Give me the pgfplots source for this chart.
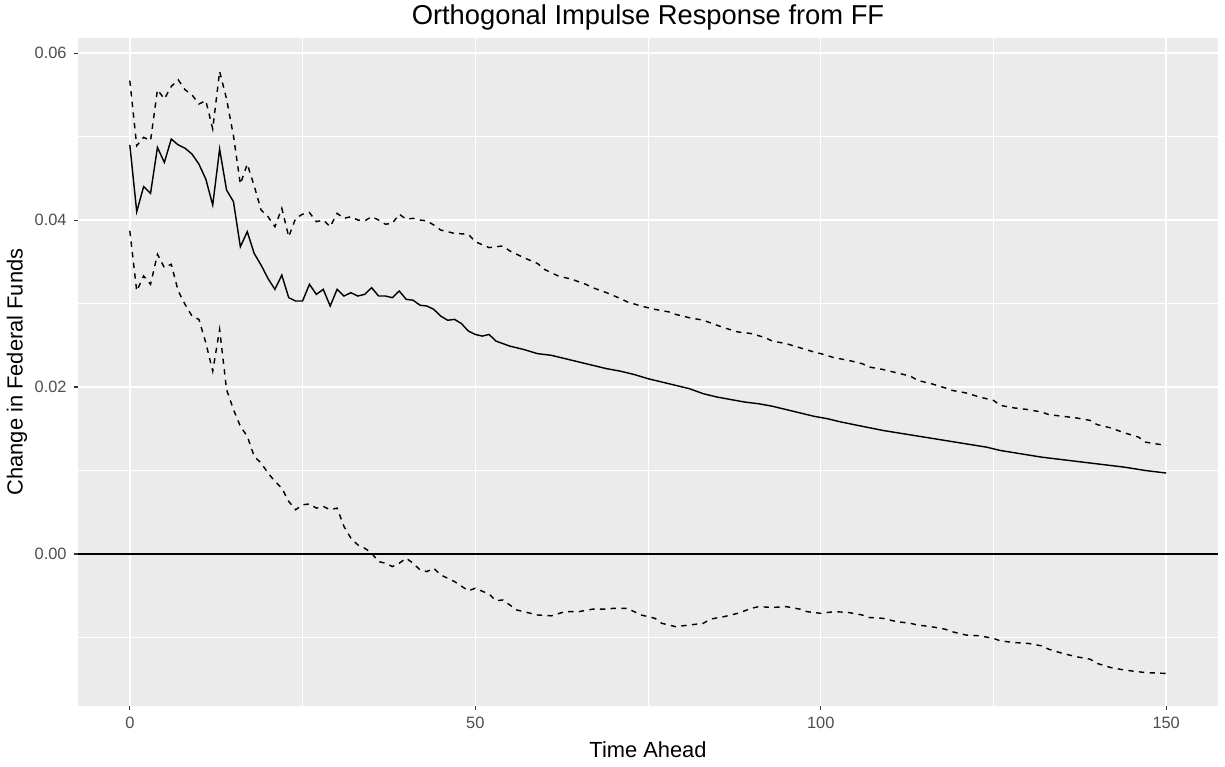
\documentclass[border=0pt]{standalone}
\usepackage{fontspec}
\setmainfont{Liberation Sans}
\usepackage{pgfplots}
\usepackage{pgfplotstable}
\pgfplotsset{compat=1.18}
\definecolor{ggbg}{HTML}{EBEBEB}
\definecolor{gray30}{HTML}{4D4D4D}
\definecolor{gray20}{HTML}{333333}

\pgfplotstableread{
x y
0 0.0490
1 0.0410
2 0.0440
3 0.0432
4 0.0487
5 0.0469
6 0.0497
7 0.0490
8 0.0486
9 0.0479
10 0.0467
11 0.0449
12 0.0418
13 0.0485
14 0.0436
15 0.0422
16 0.0368
17 0.0386
18 0.0360
19 0.0346
20 0.0330
21 0.0317
22 0.0334
23 0.0307
24 0.0303
25 0.0303
26 0.0323
27 0.0311
28 0.0317
29 0.0297
30 0.0317
31 0.0309
32 0.0313
33 0.0309
34 0.0311
35 0.0319
36 0.0309
37 0.0309
38 0.0307
39 0.0315
40 0.0305
41 0.0304
42 0.0298
43 0.0297
44 0.0293
45 0.0285
46 0.0280
47 0.0281
48 0.0276
49 0.0267
50 0.0263
51 0.0261
52 0.0263
53 0.0255
55 0.0249
57 0.0245
59 0.0240
61 0.0238
63 0.0234
65 0.0230
67 0.0226
69 0.0222
71 0.0219
73 0.0215
75 0.0210
77 0.0206
79 0.0202
81 0.0198
83 0.0192
85 0.0188
87 0.0185
89 0.0182
91 0.0180
93 0.0177
95 0.0173
97 0.0169
99 0.0165
101 0.0162
103 0.0158
106 0.0153
109 0.0148
112 0.0144
115 0.0140
118 0.0136
121 0.0132
124 0.0128
126 0.0124
129 0.0120
132 0.0116
135 0.0113
138 0.0110
141 0.0107
144 0.0104
147 0.0100
150 0.0097
}\tabmid

\pgfplotstableread{
x y
0 0.0567
1 0.0489
2 0.0499
3 0.0495
4 0.0556
5 0.0545
6 0.0560
7 0.0568
8 0.0556
9 0.0550
10 0.0539
11 0.0543
12 0.0509
13 0.0578
14 0.0545
15 0.0501
16 0.0443
17 0.0467
18 0.0441
19 0.0412
20 0.0404
21 0.0392
22 0.0414
23 0.0380
24 0.0402
25 0.0407
26 0.0409
27 0.0398
28 0.0400
29 0.0392
30 0.0408
31 0.0402
32 0.0404
33 0.0400
34 0.0399
35 0.0404
36 0.0400
37 0.0395
38 0.0396
39 0.0407
40 0.0401
41 0.0402
42 0.0400
43 0.0399
44 0.0394
45 0.0388
47 0.0384
49 0.0383
50 0.0374
52 0.0367
54 0.0369
55 0.0363
57 0.0355
59 0.0348
60 0.0341
62 0.0333
64 0.0329
66 0.0323
67 0.0319
69 0.0313
71 0.0306
72 0.0302
74 0.0297
76 0.0293
78 0.0290
79 0.0287
81 0.0283
83 0.0280
85 0.0274
86 0.0271
88 0.0266
90 0.0264
92 0.0259
93 0.0255
95 0.0252
97 0.0247
99 0.0242
100 0.0240
102 0.0235
104 0.0232
106 0.0228
107 0.0224
109 0.0221
111 0.0217
113 0.0213
114 0.0208
116 0.0204
118 0.0199
119 0.0196
121 0.0193
123 0.0188
125 0.0184
126 0.0178
128 0.0175
130 0.0173
132 0.0170
133 0.0167
135 0.0165
137 0.0163
139 0.0160
140 0.0155
142 0.0151
144 0.0145
146 0.0140
147 0.0134
150 0.0130
}\tabup

\pgfplotstableread{
x y
0 0.0387
1 0.0315
2 0.0333
3 0.0323
4 0.0359
5 0.0343
6 0.0347
7 0.0315
8 0.0299
9 0.0285
10 0.0281
11 0.0253
12 0.0219
13 0.0269
14 0.0197
15 0.0173
16 0.0153
17 0.0141
18 0.0117
19 0.0109
20 0.0097
21 0.0087
22 0.0079
23 0.0063
24 0.0053
25 0.0059
26 0.0060
27 0.0055
28 0.0057
29 0.0053
30 0.0055
31 0.0033
32 0.0019
33 0.0011
34 0.0007
35 0.0001
36 -0.0009
37 -0.0011
38 -0.0015
39 -0.0011
40 -0.0005
41 -0.0011
42 -0.0019
43 -0.0021
44 -0.0017
45 -0.0025
46 -0.0029
47 -0.0033
49 -0.0044
50 -0.0041
52 -0.0048
53 -0.0056
54 -0.0055
56 -0.0067
58 -0.0071
59 -0.0073
61 -0.0074
63 -0.0069
65 -0.0069
67 -0.0066
69 -0.0066
70 -0.0065
72 -0.0065
74 -0.0073
76 -0.0077
77 -0.0083
79 -0.0087
81 -0.0085
83 -0.0083
84 -0.0078
86 -0.0075
88 -0.0071
90 -0.0065
91 -0.0063
93 -0.0064
95 -0.0063
97 -0.0066
98 -0.0069
100 -0.0071
102 -0.0069
104 -0.0070
106 -0.0073
107 -0.0076
109 -0.0077
111 -0.0081
113 -0.0083
114 -0.0085
116 -0.0087
118 -0.0090
119 -0.0093
121 -0.0097
123 -0.0098
125 -0.0101
126 -0.0104
128 -0.0106
130 -0.0107
132 -0.0110
133 -0.0114
135 -0.0119
137 -0.0123
139 -0.0126
140 -0.0131
142 -0.0136
144 -0.0139
146 -0.0141
147 -0.0142
150 -0.0143
}\tablow

\begin{document}
\begin{tikzpicture}
\useasboundingbox (-58.5pt,-45.75pt) rectangle (860.25pt,529.5pt);
\begin{axis}[
  scale only axis,
  width=855pt, height=501pt,
  xmin=-7.5, xmax=157.5,
  ymin=-0.0182, ymax=0.0618,
  axis background/.style={fill=ggbg},
  axis line style={draw=none},
  xtick={0,50,100,150},
  ytick={0,0.02,0.04,0.06},
  minor xtick={25,75,125},
  minor ytick={-0.01,0.01,0.03,0.05},
  grid=both,
  major grid style={white, line width=1.07pt},
  minor grid style={white, line width=0.53pt},
  tick align=outside,
  major tick length=3pt,
  minor tick length=0pt,
  tick style={gray20, line width=0.8pt},
  xtick pos=bottom, ytick pos=left,
  /pgf/number format/assume math mode=true,
  scaled y ticks=false,
  xticklabel style={yshift=-1.5pt},
  yticklabel style={xshift=-2pt, /pgf/number format/.cd, fixed, fixed zerofill, precision=2},
  ticklabel style={text=gray30, font=\fontsize{12.3}{14}\selectfont},
  xlabel={Time Ahead},
  ylabel={Change in Federal Funds},
  label style={font=\fontsize{16.4}{19}\selectfont},
  xlabel style={at={(axis description cs:0.5,-0.0659)}, anchor=center},
  ylabel style={at={(axis description cs:-0.0535,0.5)}, anchor=center},
  title={Orthogonal Impulse Response from FF},
  every axis title shift=0pt,
  title style={at={(axis description cs:0.5,1.0314)}, anchor=center, font=\fontsize{20.5}{24}\selectfont},
  clip=true,
]
\addplot[black, line width=1.07pt, forget plot] coordinates {(-7.5,0) (157.5,0)};
\addplot[black, line width=1.07pt] table[x=x,y=y] {\tabmid};
\addplot[black, line width=1.07pt, dash pattern=on 4pt off 4pt] table[x=x,y=y] {\tabup};
\addplot[black, line width=1.07pt, dash pattern=on 4pt off 4pt] table[x=x,y=y] {\tablow};
\end{axis}
\end{tikzpicture}
\end{document}
